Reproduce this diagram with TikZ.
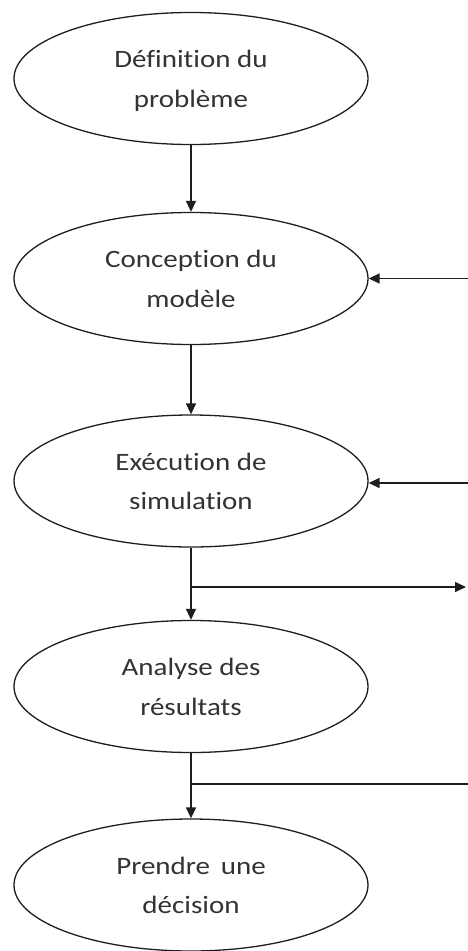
\documentclass[tikz,border=0pt]{standalone}
\usepackage{fontspec}
\newfontfamily\stagefont[FakeStretch=1.16,Ligatures=NoCommon]{Carlito}
\usetikzlibrary{shapes.geometric,arrows.meta}
\definecolor{inkline}{HTML}{1E1E1E}
\definecolor{inktext}{HTML}{333333}
\tikzset{
  stage/.style={ellipse, draw=inkline, line width=1.3pt, minimum width=354pt,
    minimum height=132pt, inner sep=0pt},
  stagetext/.style={anchor=base, inner sep=0pt, text=inktext,
    font=\stagefont\fontsize{25}{30}\selectfont},
  flow/.style={draw=inkline, line width=1.5pt, -{Triangle[length=11pt,width=10pt]}},
  plain/.style={draw=inkline, line width=1.5pt}
}
\begin{document}
\begin{tikzpicture}[x=1pt,y=-1pt]
  \useasboundingbox (0,0) rectangle (468,951);
  % stages
  \node[stage] (def) at (191,78.5) {};
  \node[stage] (con) at (191,278.5) {};
  \node[stage] (exe) at (191,481) {};
  \node[stage] (ana) at (191,686.5) {};
  \node[stage] (dec) at (191,885) {};
  % two-line labels, set on fixed baselines
  \node[stagetext] (defA) at ([yshift=11pt]def.center) {Définition du};
  \node[stagetext] (defB) at ([yshift=-28.5pt]def.center) {problème};
  \node[stagetext] (conA) at ([yshift=11pt]con.center) {Conception du};
  \node[stagetext] (conB) at ([yshift=-28.5pt]con.center) {modèle};
  \node[stagetext] (exeA) at ([yshift=11pt]exe.center) {Exécution de};
  \node[stagetext] (exeB) at ([yshift=-28.5pt]exe.center) {simulation};
  \node[stagetext] (anaA) at ([yshift=11pt]ana.center) {Analyse des};
  \node[stagetext] (anaB) at ([yshift=-28.5pt]ana.center) {résultats};
  \node[stagetext] (decA) at ([yshift=11pt]dec.center) {Prendre\, une};
  \node[stagetext] (decB) at ([yshift=-28.5pt]dec.center) {décision};
  % outer ends of the side connectors
  \coordinate (inCon) at (468,278.5);
  \coordinate (inExe) at (468,483);
  \coordinate (outExe) at (466,587);
  \coordinate (outAna) at (468,784);
  \coordinate (jExe) at (191,587);
  \coordinate (jAna) at (191,784);
  % main sequence
  \draw[flow] (def) -- (con);
  \draw[flow] (con) -- (exe);
  \draw[flow] (exe) -- (ana);
  \draw[flow] (ana) -- (dec);
  % side branches
  \draw[flow] (inCon) -- (con.east);
  \draw[flow] (inExe) -- (exe.east |- inExe);
  \draw[flow] (jExe) -- (outExe);
  \draw[plain] (jAna) -- (outAna);
\end{tikzpicture}
\end{document}
